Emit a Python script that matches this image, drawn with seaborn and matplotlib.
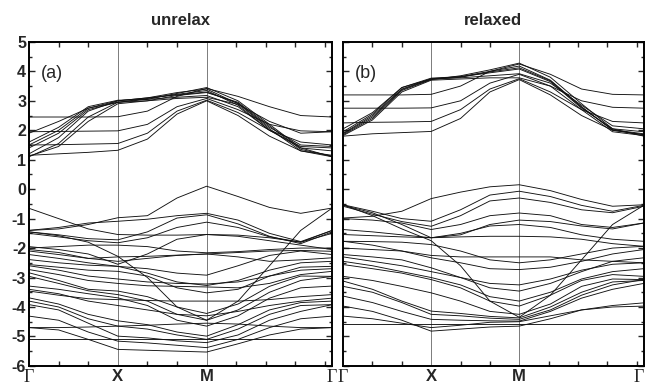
import numpy as np
import pandas as pd
import matplotlib
matplotlib.use("Agg")
import matplotlib.pyplot as plt
import matplotlib.ticker as mticker
import seaborn as sns

# k-path positions (Gamma - X - M - Gamma), X at 0.5, M at 1.0
k_path = [0.0, 1/6, 1/3, 0.5, 2/3, 5/6, 1.0, 1.177, 1.354, 1.530, 1.707]
k_labels = ["Γ", "X", "M", "Γ"]
k_label_pos = [0.0, 0.5, 1.0, 1.707]

# band energies (eV), one row per band
unrelax_cb = [
    [2.45, 2.45, 2.45, 2.46, 2.65, 3.15, 3.42, 3.15, 2.80, 2.50, 2.45],
    [1.95, 1.96, 1.97, 1.98, 2.20, 2.80, 3.08, 2.70, 2.20, 1.98, 1.95],
    [1.50, 1.51, 1.53, 1.55, 1.90, 2.65, 3.02, 2.60, 2.00, 1.60, 1.50],
    [1.15, 1.20, 1.25, 1.32, 1.70, 2.55, 3.00, 2.50, 1.80, 1.30, 1.10],
    [1.10, 1.55, 2.45, 2.95, 3.05, 3.25, 3.45, 3.00, 2.20, 1.40, 1.10],
    [1.20, 1.75, 2.65, 3.00, 3.10, 3.28, 3.40, 2.90, 2.05, 1.30, 1.15],
    [1.40, 1.90, 2.70, 2.95, 3.08, 3.22, 3.35, 2.85, 2.00, 1.45, 1.40],
    [1.50, 2.00, 2.75, 3.00, 3.10, 3.20, 3.30, 2.92, 2.10, 1.50, 1.45],
    [1.60, 2.10, 2.80, 3.02, 3.05, 3.12, 3.18, 2.80, 2.00, 1.40, 1.30],
    [1.90, 2.30, 2.75, 2.95, 3.00, 3.08, 3.12, 2.88, 2.30, 1.90, 1.95],
    [1.12, 1.45, 2.30, 2.90, 3.00, 3.18, 3.28, 2.95, 2.15, 1.35, 1.12],
]
unrelax_vb = [
    [-1.40, -1.35, -1.20, -0.97, -0.90, -0.30, 0.10, -0.25, -0.62, -0.82, -0.64],
    [-0.65, -1.00, -1.35, -1.54, -1.56, -1.56, -1.54, -1.56, -1.65, -1.80, -1.40],
    [-1.40, -1.30, -1.15, -1.09, -1.02, -0.90, -0.82, -1.05, -1.50, -1.78, -1.40],
    [-1.45, -1.55, -1.68, -1.72, -1.45, -0.98, -0.87, -1.18, -1.60, -1.85, -1.45],
    [-1.50, -1.62, -1.75, -1.82, -1.65, -1.30, -1.12, -1.30, -1.62, -1.80, -1.50],
    [-1.45, -1.58, -1.80, -2.28, -3.00, -4.00, -4.45, -3.80, -2.60, -1.40, -0.64],
    [-2.00, -1.95, -1.90, -1.90, -1.95, -2.10, -2.16, -2.12, -2.05, -2.00, -2.00],
    [-2.10, -2.22, -2.35, -2.45, -2.35, -2.25, -2.20, -2.15, -2.10, -2.08, -2.11],
    [-2.22, -2.35, -2.50, -2.62, -2.70, -2.85, -2.92, -2.60, -2.25, -2.10, -2.22],
    [-2.39, -2.50, -2.58, -2.62, -2.85, -3.15, -3.27, -3.10, -2.75, -2.50, -2.45],
    [-2.56, -2.65, -2.75, -2.79, -2.95, -3.35, -3.52, -3.40, -2.95, -2.65, -2.62],
    [-2.73, -2.90, -3.10, -3.20, -3.28, -3.30, -3.32, -3.35, -3.20, -2.90, -2.79],
    [-2.84, -3.10, -3.40, -3.46, -3.65, -4.00, -4.22, -3.90, -3.30, -2.95, -2.96],
    [-2.96, -3.20, -3.45, -3.58, -3.80, -4.25, -4.45, -4.10, -3.50, -3.10, -2.96],
    [-3.29, -3.40, -3.55, -3.69, -3.95, -4.45, -4.65, -4.30, -3.70, -3.35, -3.29],
    [-3.46, -3.60, -3.72, -3.75, -3.78, -3.80, -3.80, -3.80, -3.75, -3.65, -3.58],
    [-3.69, -3.90, -4.25, -4.47, -4.60, -4.85, -4.99, -4.60, -4.10, -3.85, -3.80],
    [-3.80, -4.00, -4.40, -4.65, -4.75, -4.95, -5.10, -4.75, -4.25, -3.95, -3.92],
    [-3.92, -4.10, -4.55, -4.99, -5.05, -5.15, -5.21, -4.95, -4.45, -4.15, -3.92],
    [-4.31, -4.45, -4.85, -5.16, -5.22, -5.30, -5.38, -5.10, -4.70, -4.40, -4.31],
    [-4.70, -4.78, -5.10, -5.44, -5.47, -5.50, -5.53, -5.25, -4.95, -4.75, -4.70],
    [-4.70, -4.70, -4.68, -4.65, -4.62, -4.58, -4.55, -4.58, -4.65, -4.70, -4.70],
    [-5.10, -5.10, -5.10, -5.10, -5.10, -5.10, -5.10, -5.10, -5.10, -5.10, -5.10],
    [-2.05, -2.15, -2.35, -2.30, -2.28, -2.24, -2.20, -2.30, -2.45, -2.40, -2.33],
    [-2.60, -2.75, -2.95, -3.05, -3.15, -3.20, -3.22, -3.15, -2.95, -2.75, -2.70],
    [-3.40, -3.55, -3.80, -3.95, -4.10, -4.25, -4.30, -4.15, -3.95, -3.80, -3.70],
    [-1.95, -2.05, -2.20, -2.55, -2.20, -1.70, -1.54, -1.60, -1.75, -1.90, -2.05],
]
relaxed_cb = [
    [3.20, 3.20, 3.20, 3.22, 3.50, 4.00, 4.25, 3.90, 3.40, 3.22, 3.20],
    [2.75, 2.75, 2.75, 2.76, 3.00, 3.60, 3.90, 3.50, 3.00, 2.78, 2.75],
    [2.25, 2.27, 2.28, 2.30, 2.70, 3.40, 3.75, 3.30, 2.70, 2.30, 2.25],
    [1.80, 1.88, 1.92, 1.96, 2.40, 3.30, 3.72, 3.20, 2.50, 2.00, 1.85],
    [1.85, 2.40, 3.35, 3.72, 3.85, 4.05, 4.28, 3.80, 2.90, 2.05, 1.80],
    [1.90, 2.50, 3.40, 3.75, 3.82, 4.00, 4.18, 3.70, 2.80, 2.00, 1.85],
    [1.95, 2.55, 3.45, 3.77, 3.82, 3.95, 4.08, 3.65, 2.75, 2.05, 1.95],
    [2.05, 2.60, 3.45, 3.74, 3.78, 3.85, 3.92, 3.60, 2.85, 2.15, 2.05],
    [1.82, 2.35, 3.30, 3.70, 3.74, 3.78, 3.78, 3.50, 2.70, 1.95, 1.82],
    [1.88, 2.45, 3.38, 3.73, 3.80, 3.98, 4.12, 3.68, 2.78, 2.02, 1.88],
]
relaxed_vb = [
    [-0.98, -0.92, -0.75, -0.32, -0.10, 0.08, 0.15, -0.05, -0.35, -0.58, -0.53],
    [-0.53, -0.75, -1.00, -1.09, -0.70, -0.20, -0.07, -0.25, -0.55, -0.75, -0.55],
    [-0.58, -0.85, -1.10, -1.26, -0.90, -0.40, -0.30, -0.45, -0.70, -0.80, -0.58],
    [-0.53, -0.90, -1.35, -1.75, -2.60, -3.80, -4.35, -3.60, -2.40, -1.20, -0.55],
    [-1.00, -1.05, -1.15, -1.37, -1.20, -0.90, -0.81, -0.90, -1.20, -1.30, -1.15],
    [-1.37, -1.45, -1.55, -1.65, -1.50, -1.25, -1.20, -1.30, -1.55, -1.70, -1.77],
    [-1.54, -1.58, -1.62, -1.65, -1.62, -1.60, -1.60, -1.62, -1.70, -1.85, -1.94],
    [-1.77, -1.78, -1.80, -1.88, -2.10, -2.40, -2.50, -2.40, -2.20, -2.00, -1.94],
    [-2.00, -2.05, -2.10, -2.33, -2.50, -2.70, -2.73, -2.65, -2.45, -2.20, -2.05],
    [-2.22, -2.30, -2.40, -2.67, -3.00, -3.35, -3.46, -3.20, -2.80, -2.45, -2.33],
    [-2.30, -2.45, -2.60, -2.80, -3.00, -3.20, -3.25, -3.05, -2.75, -2.55, -2.50],
    [-2.56, -2.70, -2.85, -3.07, -3.35, -3.80, -3.97, -3.60, -3.10, -2.90, -2.96],
    [-2.96, -3.10, -3.30, -3.52, -3.80, -4.15, -4.25, -3.90, -3.30, -3.05, -3.07],
    [-3.12, -3.40, -3.80, -4.14, -4.22, -4.32, -4.37, -4.00, -3.50, -3.15, -3.10],
    [-3.63, -3.85, -4.15, -4.42, -4.45, -4.47, -4.48, -4.15, -3.70, -3.40, -3.20],
    [-3.97, -4.15, -4.45, -4.82, -4.75, -4.68, -4.65, -4.40, -4.10, -3.95, -3.86],
    [-4.31, -4.40, -4.55, -4.70, -4.62, -4.52, -4.50, -4.30, -4.10, -4.00, -3.97],
    [-4.59, -4.59, -4.59, -4.59, -4.59, -4.59, -4.59, -4.59, -4.59, -4.59, -4.59],
    [-1.77, -1.90, -2.10, -2.25, -2.30, -2.30, -2.30, -2.30, -2.40, -2.45, -2.50],
    [-0.55, -0.80, -1.20, -1.65, -1.55, -1.20, -1.05, -1.10, -1.25, -1.35, -1.15],
    [-2.45, -2.60, -2.80, -3.00, -3.25, -3.65, -3.80, -3.50, -3.05, -2.80, -2.70],
    [-3.30, -3.50, -3.85, -4.25, -4.30, -4.38, -4.42, -4.10, -3.60, -3.25, -3.07],
]


def to_frame(bands):
    rows = []
    for b, energies in enumerate(bands):
        for k, e in zip(k_path, energies):
            rows.append((b, k, e))
    return pd.DataFrame(rows, columns=["band", "k", "E"])


sns.set_style("ticks")
plt.rcParams["font.family"] = ["Liberation Sans", "DejaVu Sans"]

fig = plt.figure(figsize=(6.45, 3.88), dpi=100)
ax1 = fig.add_axes([0.045, 0.057, 0.470, 0.835])
ax2 = fig.add_axes([0.532, 0.057, 0.466, 0.835])

panels = [
    (ax1, unrelax_cb + unrelax_vb, "unrelax", "(a)"),
    (ax2, relaxed_cb + relaxed_vb, "relaxed", "(b)"),
]

minor_k = [i / 6 for i in range(1, 11) if i not in (3, 6)]

for ax, bands, title, tag in panels:
    df = to_frame(bands)
    sns.lineplot(data=df, x="k", y="E", units="band", estimator=None,
                 color="#111111", lw=0.65, ax=ax, legend=False)
    for xv in k_label_pos[1:3]:
        ax.axvline(xv, color="#666666", lw=0.6, zorder=0)
    ax.set_xlim(0, 1.707)
    ax.set_ylim(-6, 5)
    ax.set_xlabel("")
    ax.set_ylabel("")
    ax.set_title(title, fontsize=12, fontweight="bold", pad=12)
    ax.text(0.04, 0.93, tag, transform=ax.transAxes, fontsize=13,
            va="top", ha="left")

    ax.set_xticks(k_label_pos)
    ax.set_xticklabels(k_labels)
    for lbl in ax.get_xticklabels():
        if lbl.get_text() == "Γ":
            lbl.set_fontfamily("Liberation Serif")
            lbl.set_fontsize(13)
        else:
            lbl.set_fontweight("bold")
            lbl.set_fontsize(12)
    ax.xaxis.set_minor_locator(mticker.FixedLocator(minor_k))
    ax.tick_params(axis="x", which="major", length=0, pad=2)
    ax.tick_params(axis="x", which="minor", direction="in", length=3.5,
                   top=True, bottom=True, width=1)

    ax.yaxis.set_major_locator(mticker.MultipleLocator(1))
    ax.yaxis.set_minor_locator(mticker.MultipleLocator(0.5))
    ax.tick_params(axis="y", which="both", direction="in", left=True,
                   right=True, width=1)
    ax.tick_params(axis="y", which="major", length=4, pad=2)
    ax.tick_params(axis="y", which="minor", length=2.5)
    for sp in ax.spines.values():
        sp.set_visible(True)
        sp.set_linewidth(1.4)
        sp.set_color("black")

ax1.set_yticks(range(-6, 6))
ax1.set_yticklabels([str(v) for v in range(-6, 6)], fontsize=11.5,
                    fontweight="bold")
ax2.tick_params(axis="y", labelleft=False)
# keep the last Gamma of the right panel inside the figure
ax2.get_xticklabels()[-1].set_horizontalalignment("right")

fig.savefig("out.png", dpi=100)
